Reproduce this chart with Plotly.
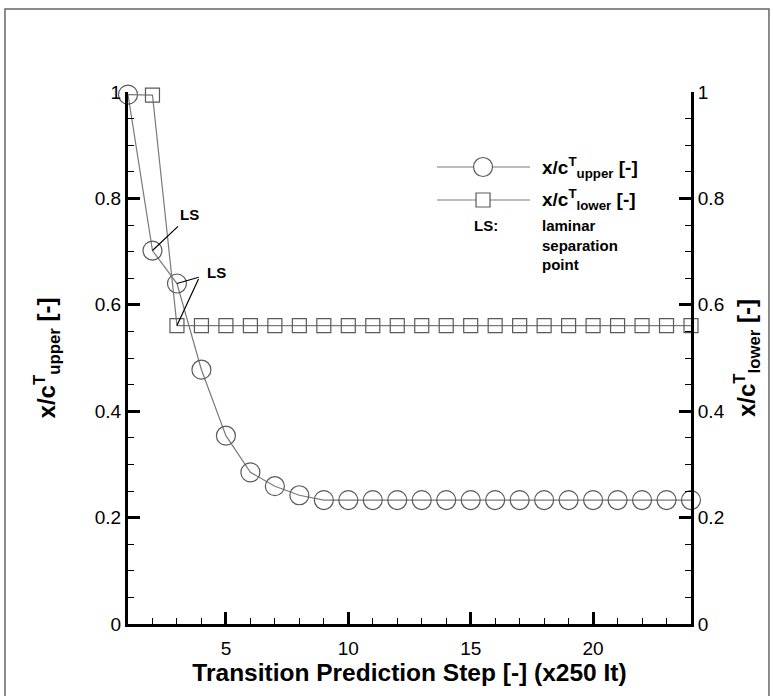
import plotly.graph_objects as go

# ---- data ----
steps = [1, 2, 3, 4, 5, 6, 7, 8, 9, 10, 11, 12, 13, 14, 15, 16, 17, 18, 19, 20, 21, 22, 23, 24]
xc_upper = [0.995, 0.702, 0.640, 0.478, 0.354, 0.285, 0.259, 0.242, 0.233, 0.233, 0.233, 0.233,
            0.233, 0.233, 0.233, 0.233, 0.233, 0.233, 0.233, 0.233, 0.233, 0.233, 0.233, 0.233]
xc_lower = [0.995, 0.994, 0.561, 0.561, 0.561, 0.561, 0.561, 0.561, 0.561, 0.561, 0.561, 0.561,
            0.561, 0.561, 0.561, 0.561, 0.561, 0.561, 0.561, 0.561, 0.561, 0.561, 0.561, 0.561]
x_tickvals = [5, 10, 15, 20]
y_tickvals = [0, 0.2, 0.4, 0.6, 0.8, 1]

FONT = "Liberation Sans, Arial, Helvetica, sans-serif"
MARK = "#5a5a5a"
LINE = "#7a7a7a"

fig = go.Figure()

# lower-surface series (right axis); first square hidden under the circle as in the reference
fig.add_trace(go.Scatter(
    x=steps, y=xc_lower, yaxis="y2", mode="lines+markers", cliponaxis=False,
    line=dict(color=LINE, width=1.2),
    marker=dict(symbol="square-open", size=14, color=MARK, line=dict(width=1.2),
                opacity=[0] + [1] * (len(steps) - 1)),
    showlegend=False,
))
# upper-surface series (left axis)
fig.add_trace(go.Scatter(
    x=steps, y=xc_upper, mode="lines+markers", cliponaxis=False,
    line=dict(color=LINE, width=1.2),
    marker=dict(symbol="circle-open", size=19, color=MARK, line=dict(width=1.2)),
    showlegend=False,
))

axis_common = dict(
    showline=True, linecolor="black", linewidth=3, mirror=False,
    ticks="inside", ticklen=12, tickwidth=2.5, tickcolor="black",
    showgrid=False, zeroline=False,
    tickfont=dict(family=FONT, size=19, color="black"),
)

fig.update_layout(
    width=773, height=696,
    margin=dict(l=128, r=82, t=92, b=72),
    paper_bgcolor="white", plot_bgcolor="white",
    font=dict(family=FONT, color="black"),
    xaxis=dict(
        range=[1, 24], tickvals=x_tickvals, **axis_common, ticklabelstandoff=5,
        minor=dict(ticks="inside", ticklen=6, tickwidth=1, tickcolor="black", dtick=1, tick0=0, showgrid=False),
        title=dict(text="<b>Transition Prediction Step [-] (x250 It)</b>",
                   font=dict(family=FONT, size=24.5), standoff=0),
    ),
    yaxis=dict(
        range=[0, 1], tickvals=y_tickvals, **axis_common,
        minor=dict(ticks="inside", ticklen=6, tickwidth=1, tickcolor="black", dtick=0.05, tick0=0, showgrid=False),
        title=dict(text="<b>x/c<sup>T</sup><sub>upper</sub> [-]</b>",
                   font=dict(family=FONT, size=24), standoff=33),
    ),
    yaxis2=dict(
        range=[0, 1], tickvals=y_tickvals, overlaying="y", side="right", **axis_common,
        minor=dict(ticks="inside", ticklen=6, tickwidth=1, tickcolor="black", dtick=0.05, tick0=0, showgrid=False),
        title=dict(text="<b>x/c<sup>T</sup><sub>lower</sub> [-]</b>",
                   font=dict(family=FONT, size=24), standoff=15),
    ),
)

# ---- outer frame ----
shapes = [dict(type="rect", xref="paper", yref="paper", x0=-0.2185, x1=1.1385, y0=-0.15, y1=1.156,
               line=dict(color="#666666", width=1.5), fillcolor="rgba(0,0,0,0)", layer="below")]

# ---- custom Tecplot-style legend ----
leg_x0, leg_x1, leg_xm = 0.5488, 0.714, 0.6306
row1, row2 = 0.859, 0.797
shapes += [
    dict(type="line", xref="paper", yref="paper", x0=leg_x0, x1=leg_x1, y0=row1, y1=row1,
         line=dict(color=LINE, width=1.2)),
    dict(type="circle", xref="paper", yref="paper", xsizemode="pixel", ysizemode="pixel",
         xanchor=leg_xm, yanchor=row1, x0=-9.5, x1=9.5, y0=-9.5, y1=9.5,
         line=dict(color=MARK, width=1.2), fillcolor="white"),
    dict(type="line", xref="paper", yref="paper", x0=leg_x0, x1=leg_x1, y0=row2, y1=row2,
         line=dict(color=LINE, width=1.2)),
    dict(type="rect", xref="paper", yref="paper", xsizemode="pixel", ysizemode="pixel",
         xanchor=leg_xm, yanchor=row2, x0=-7, x1=7, y0=-7, y1=7,
         line=dict(color=MARK, width=1.2), fillcolor="white"),
]
fig.update_layout(shapes=shapes)

annotations = [
    dict(xref="paper", yref="paper", x=0.732, y=row1, xanchor="left", yanchor="middle", showarrow=False,
         text="<b>x/c<sup>T</sup><sub>upper</sub> [-]</b>", font=dict(family=FONT, size=19)),
    dict(xref="paper", yref="paper", x=0.732, y=row2, xanchor="left", yanchor="middle", showarrow=False,
         text="<b>x/c<sup>T</sup><sub>lower</sub> [-]</b>", font=dict(family=FONT, size=19)),
    dict(xref="paper", yref="paper", x=0.636, y=0.750, xanchor="center", yanchor="middle", showarrow=False,
         text="<b>LS:</b>", font=dict(family=FONT, size=15)),
    dict(xref="paper", yref="paper", x=0.732, y=0.768, xanchor="left", yanchor="top", showarrow=False, align="left",
         text="<b>laminar<br>separation<br>point</b>", font=dict(family=FONT, size=15)),
    # LS markers on the curves
    dict(xref="x", yref="y", x=steps[1], y=xc_upper[1], ax=37.5, ay=-35.6, text="<b>LS</b>",
         font=dict(family=FONT, size=15), showarrow=True, arrowhead=0, arrowwidth=1.2, arrowcolor="black",
         standoff=0, startstandoff=2),
    dict(xref="x", yref="y", x=steps[2], y=xc_upper[2], ax=39.5, ay=-11.4, text="<b>LS</b>",
         font=dict(family=FONT, size=15), showarrow=True, arrowhead=0, arrowwidth=1.2, arrowcolor="black",
         standoff=0, startstandoff=7),
    dict(xref="x", yref="y2", x=steps[2], y=xc_lower[2], ax=22.5, ay=-48.6, text=" ",
         font=dict(family=FONT, size=1), showarrow=True, arrowhead=0, arrowwidth=1.2, arrowcolor="black",
         standoff=0, startstandoff=0),
]
fig.update_layout(annotations=annotations)

fig.write_html("out.html")
